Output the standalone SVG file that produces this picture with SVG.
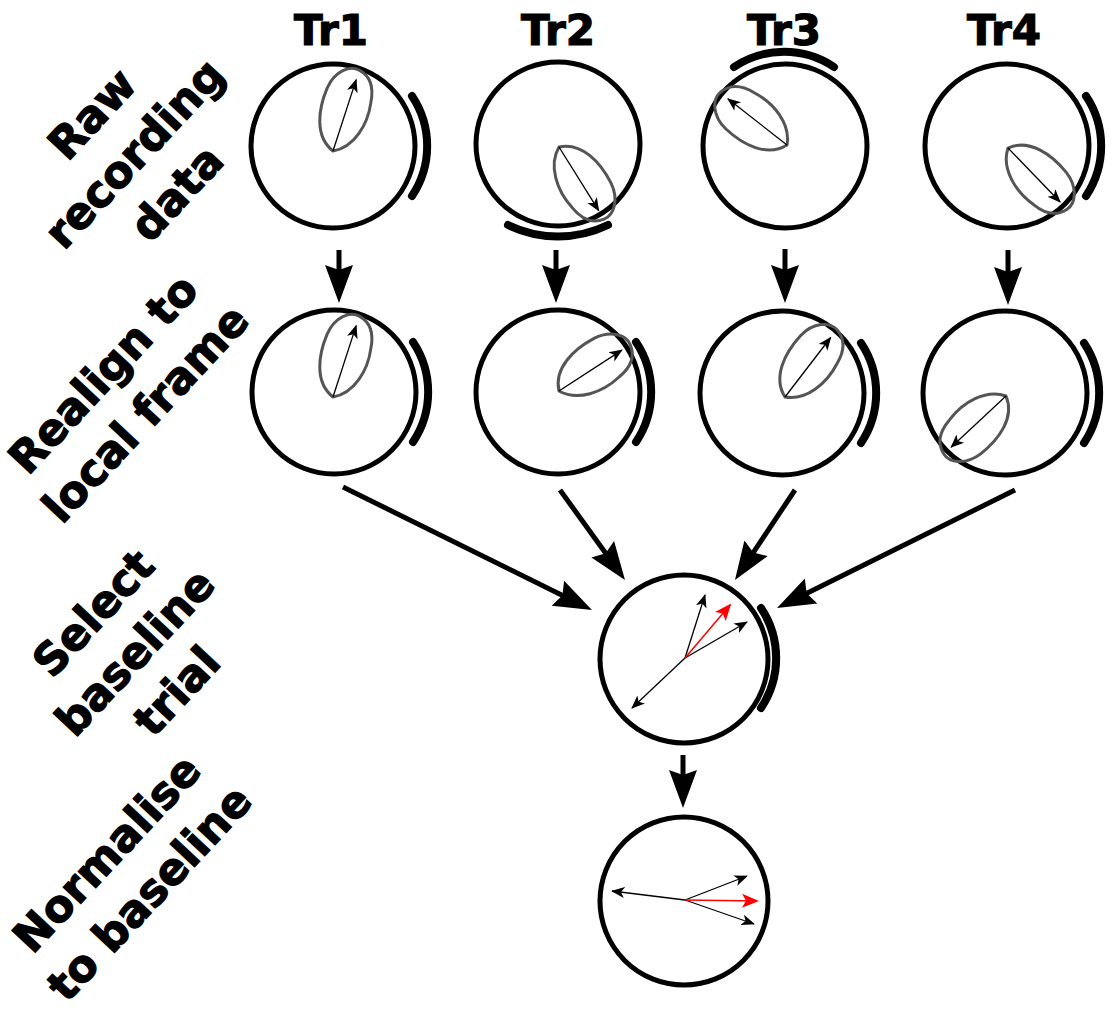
<svg xmlns="http://www.w3.org/2000/svg" xmlns:xlink="http://www.w3.org/1999/xlink" width="1112" height="1011" viewBox="0 0 1112 1011">
<style>
.ring{fill:none;stroke:#000;stroke-width:5}
.band{fill:none;stroke:#000;stroke-width:8;stroke-linecap:round}
.leaf{fill:none;stroke:#555;stroke-width:3;stroke-linejoin:round}
.vec{stroke:#000;stroke-width:1.3;marker-end:url(#ah)}
.vecr{stroke:#f00;stroke-width:1.5;marker-end:url(#ahr)}
.conn{stroke:#000;stroke-width:5;fill:none;marker-end:url(#big)}
.hdr{font-family:"DejaVu Sans",Verdana,sans-serif;font-weight:bold;font-size:42px;text-anchor:middle;stroke:#000;stroke-width:1.2}
.lbl{font-family:"DejaVu Sans",Verdana,sans-serif;font-weight:bold;font-size:44px;text-anchor:middle;stroke:#000;stroke-width:1.2}
</style>
<defs>
<marker id="ah" viewBox="0 -7 15 14" markerWidth="15" markerHeight="14" refX="12.5" refY="0" orient="auto" markerUnits="userSpaceOnUse"><path d="M0,-5.5 L13.5,0 L0,5.5 L3.5,0 Z" fill="#000"/></marker>
<marker id="ahr" viewBox="0 -8 19 16" markerWidth="19" markerHeight="16" refX="15" refY="0" orient="auto" markerUnits="userSpaceOnUse"><path d="M0,-7 L17,0 L0,7 L4,0 Z" fill="#f00"/></marker>
<marker id="big" viewBox="0 -15 40 30" markerWidth="40" markerHeight="30" refX="30" refY="0" orient="auto" markerUnits="userSpaceOnUse"><path d="M0,-14 L38,0 L0,14 L5,0 Z" fill="#000"/></marker>
<g id="petal">
<path class="leaf" d="M0,0 C 8,-22 35,-27 58,-25 C 77,-23 87,-10 85,0 C 83,11 75,19 58,21 C 36,25 10,19 0,0 Z"/>
<line class="vec" x1="0" y1="0" x2="75" y2="0"/>
</g>
</defs>
<rect width="1112" height="1011" fill="#fff"/>

<g id="headers">
<text class="hdr" x="331" y="45">Tr1</text>
<text class="hdr" x="558" y="45">Tr2</text>
<text class="hdr" x="784" y="45">Tr3</text>
<text class="hdr" x="1004" y="45">Tr4</text>
</g>

<g id="labels">
<text class="lbl" transform="translate(136,155) rotate(-47)"><tspan x="0" y="-45">Raw</tspan><tspan x="0" y="13">recording</tspan><tspan x="0" y="71">data</tspan></text>
<text class="lbl" transform="translate(126,395) rotate(-47)"><tspan x="0" y="-16">Realign to</tspan><tspan x="0" y="42">local frame</tspan></text>
<text class="lbl" transform="translate(136,653) rotate(-47)"><tspan x="0" y="-43">Select</tspan><tspan x="0" y="14">baseline</tspan><tspan x="0" y="71">trial</tspan></text>
<text class="lbl" transform="translate(129,874) rotate(-47)"><tspan x="0" y="-15">Normalise</tspan><tspan x="0" y="43">to baseline</tspan></text>
</g>

<g id="raw-tr1">
<circle class="ring" cx="333" cy="146" r="82"/>
<path class="band" d="M412,96 A90,90 0 0 1 412,196"/>
<use xlink:href="#petal" transform="translate(333,151) rotate(-72)"/>
</g>
<g id="raw-tr2">
<circle class="ring" cx="558" cy="144" r="82"/>
<path class="band" d="M508,225 A115,115 0 0 0 608,225"/>
<use xlink:href="#petal" transform="translate(559,147) rotate(58)"/>
</g>
<g id="raw-tr3">
<circle class="ring" cx="785" cy="146" r="82"/>
<path class="band" d="M734,67 A90,90 0 0 1 834,67"/>
<use xlink:href="#petal" transform="translate(787,145) rotate(-142)"/>
</g>
<g id="raw-tr4">
<circle class="ring" cx="1007" cy="146" r="82"/>
<path class="band" d="M1086,96 A90,90 0 0 1 1086,196"/>
<use xlink:href="#petal" transform="translate(1008,148) rotate(46)"/>
</g>

<g id="local-tr1">
<circle class="ring" cx="334" cy="392" r="82"/>
<path class="band" d="M413,342 A90,90 0 0 1 413,442"/>
<use xlink:href="#petal" transform="translate(333,397) rotate(-72)"/>
</g>
<g id="local-tr2">
<circle class="ring" cx="558" cy="392" r="82"/>
<path class="band" d="M636,342 A90,90 0 0 1 636,442"/>
<use xlink:href="#petal" transform="translate(559,391) rotate(-33)"/>
</g>
<g id="local-tr3">
<circle class="ring" cx="782" cy="393" r="82"/>
<path class="band" d="M861,343 A90,90 0 0 1 861,443"/>
<use xlink:href="#petal" transform="translate(785,397) rotate(-52.5)"/>
</g>
<g id="local-tr4">
<circle class="ring" cx="1005" cy="393" r="82"/>
<path class="band" d="M1084,343 A90,90 0 0 1 1084,443"/>
<use xlink:href="#petal" transform="translate(1006,396) rotate(137)"/>
</g>

<g id="baseline">
<circle class="ring" cx="684" cy="659" r="84"/>
<path class="band" d="M761,608 A90,90 0 0 1 761,708"/>
<line class="vec" x1="685" y1="658" x2="705" y2="595"/>
<line class="vec" x1="685" y1="658" x2="747" y2="622"/>
<line class="vec" x1="685" y1="658" x2="632" y2="708"/>
<line class="vecr" x1="685" y1="658" x2="730" y2="605"/>
</g>

<g id="normalised">
<circle class="ring" cx="684" cy="901" r="84"/>
<line class="vec" x1="685" y1="900" x2="612" y2="891"/>
<line class="vec" x1="685" y1="900" x2="747" y2="876"/>
<line class="vec" x1="685" y1="900" x2="754" y2="924"/>
<line class="vecr" x1="685" y1="900" x2="757" y2="901"/>
</g>

<g id="connectors">
<line class="conn" x1="339" y1="250" x2="339" y2="295"/>
<line class="conn" x1="556" y1="250" x2="556" y2="295"/>
<line class="conn" x1="785" y1="249" x2="785" y2="295"/>
<line class="conn" x1="1008" y1="250" x2="1008" y2="297"/>
<line class="conn" x1="343" y1="487" x2="584.8" y2="606.5"/>
<line class="conn" x1="560" y1="490" x2="620.3" y2="573.5"/>
<line class="conn" x1="795" y1="490" x2="739.4" y2="573.3"/>
<line class="conn" x1="1015" y1="490" x2="784.2" y2="604.4"/>
<line class="conn" x1="683" y1="755" x2="683" y2="800"/>
</g>
</svg>
